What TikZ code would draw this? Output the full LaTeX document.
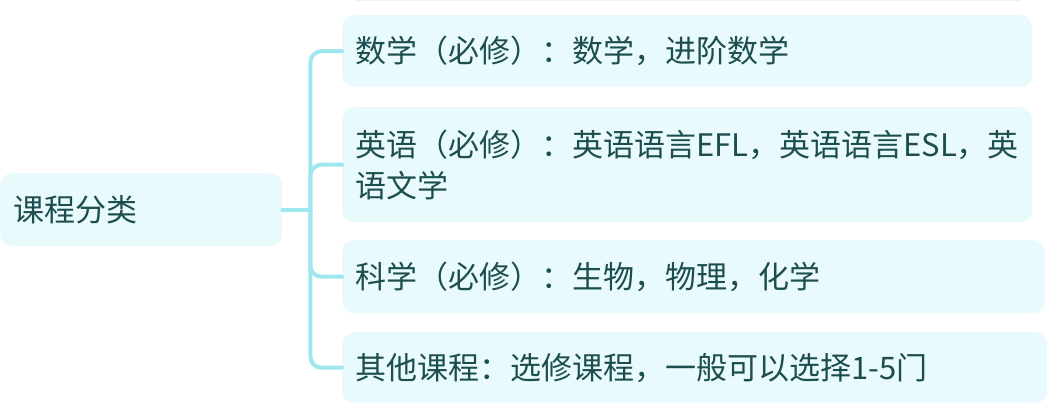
\documentclass[tikz,border=0pt]{standalone}
\usepackage{fontspec}
\newfontfamily\cjk{Noto Sans CJK SC}
\definecolor{boxfill}{HTML}{E9FAFC}
\definecolor{linkcol}{HTML}{A0E6EE}
\definecolor{inkcol}{HTML}{1D4E4F}
\tikzset{
  topic/.style={fill=boxfill, rounded corners=12pt, inner xsep=13pt, inner ysep=0pt,
    anchor=north west, text=inkcol, align=left, font=\cjk\fontsize{31}{41}\selectfont},
  link/.style={draw=linkcol, line width=4pt, rounded corners=11pt}
}
\begin{document}
\begin{tikzpicture}[x=1pt, y=-1pt, line join=round, line cap=round]
  \useasboundingbox (0,0) rectangle (1057,414);
  \fill[black!6] (356,-10) rectangle (1020,1.5);
  \node[topic, minimum width=282pt, minimum height=73pt, text width=256pt] (root) at (0,173) {课程分类};
  \node[topic, minimum width=690pt, minimum height=72pt, text width=664pt] (math) at (342,15)
    {数学（必修）：数学，进阶数学};
  \node[topic, minimum width=690pt, minimum height=115pt, text width=664pt] (english) at (342,107)
    {英语（必修）：英语语言EFL，英语语言ESL，英\\语文学};
  \node[topic, minimum width=703pt, minimum height=73pt, text width=677pt] (science) at (342,240)
    {科学（必修）：生物，物理，化学};
  \node[topic, minimum width=705pt, minimum height=71pt, text width=679pt] (other) at (342,332)
    {其他课程：选修课程，一般可以选择1-5门};
  \draw[link] (root.east) -- ++(28,0) coordinate (hub);
  \foreach \leaf in {math,english,science,other}
    \draw[link] (hub) |- (\leaf.west);
\end{tikzpicture}
\end{document}
